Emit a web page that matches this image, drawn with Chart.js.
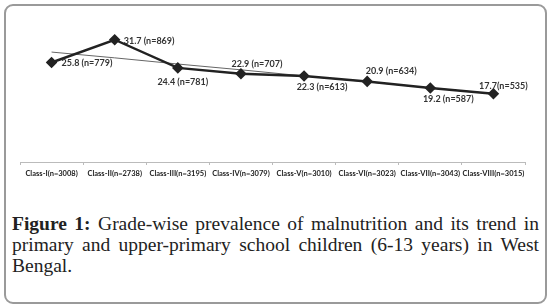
<!DOCTYPE html>
<html>
<head>
<meta charset="utf-8">
<script src="https://cdn.jsdelivr.net/npm/chart.js@4.4.1/dist/chart.umd.min.js"></script>
<style>
  body { margin: 0; background: #fff; width: 551px; height: 308px; overflow: hidden; }
  #frame {
    position: absolute; left: 4px; top: 4px; width: 539px; height: 296px;
    border: 2px solid #9a9a9a; border-radius: 9px;
  }
  #chartBox { position: absolute; left: 0; top: 0; width: 551px; height: 195px; }
  #caption {
    position: absolute; left: 12px; top: 213px; width: 527px;
    font-family: "Liberation Serif", "DejaVu Serif", serif; font-size: 19.5px; color: #222;
    line-height: 21px;
  }
  #caption .j { text-align: justify; text-align-last: justify; white-space: nowrap; }
</style>
</head>
<body>
<div id="frame"></div>
<div id="chartBox"><canvas id="myChart"></canvas></div>
<div id="caption">
  <div class="j"><b>Figure 1:</b> Grade-wise prevalence of malnutrition and its trend in</div>
  <div class="j">primary and upper-primary school children (6-13 years) in West</div>
  <div>Bengal.</div>
</div>
<script>
// categories (x axis)
const classes = ['Class-I(n=3008)', 'Class-II(n=2738)', 'Class-III(n=3195)', 'Class-IV(n=3079)',
                 'Class-V(n=3010)', 'Class-VI(n=3023)', 'Class-VII(n=3043)', 'Class-VIII(n=3015)'];

// prevalence (%) and number malnourished
const prevalence = [25.8, 31.7, 24.4, 22.9, 22.3, 20.9, 19.2, 17.7];
const malnourished = [779, 869, 781, 707, 613, 634, 587, 535];

// trend line
const trend = [28.5, 27.0, 25.4, 23.9, 22.3, 20.8, 19.2, 17.7];

// where each label sits relative to its point: [dx, dy, align]
const labelPos = [
    [10, 1, 'left'], [9, 1, 'left'], [5, 14, 'center'], [16, -10, 'center'],
    [18, 11, 'center'], [24, -10, 'center'], [18, 11, 'center'], [10, -8, 'center']
];

const pointLabels = {
    id: 'pointLabels',
    afterDatasetsDraw(chart) {
        const ctx = chart.ctx;
        const meta = chart.getDatasetMeta(0);
        ctx.save();
        ctx.font = 'bold 9px Lato, sans-serif';
        ctx.fillStyle = '#333';
        ctx.textBaseline = 'middle';
        meta.data.forEach((pt, i) => {
            const p = labelPos[i];
            const sep = i === 7 ? '' : ' ';
            ctx.textAlign = p[2];
            ctx.fillText(prevalence[i].toFixed(1) + sep + '(n=' + malnourished[i] + ')', pt.x + p[0], pt.y + p[1]);
        });
        ctx.restore();
    }
};

const myChart = document.getElementById('myChart');

new Chart(myChart, {
    type: 'line',
    data: {
        labels: classes,
        datasets: [{
            label: 'Prevalence',
            data: prevalence,
            borderColor: '#222',
            backgroundColor: '#222',
            borderWidth: 2.5,
            pointStyle: 'rectRot',
            pointRadius: 4,
            tension: 0
        }, {
            label: 'Trend',
            data: trend,
            borderColor: '#666',
            borderWidth: 1,
            pointRadius: 0,
            tension: 0
        }]
    },
    plugins: [pointLabels],
    options: {
        responsive: true,
        maintainAspectRatio: false,
        animation: false,
        layout: { padding: { left: 20, right: 26, top: 27, bottom: 13 } },
        plugins: { legend: { display: false }, tooltip: { enabled: false } },
        scales: {
            y: { display: false, min: 0, max: 35 },
            x: {
                offset: true,
                grid: { offset: true, drawOnChartArea: false, drawTicks: true, tickLength: 3, color: '#bbb' },
                border: { display: true, color: '#bbb' },
                ticks: {
                    autoSkip: false, maxRotation: 0, padding: 4,
                    color: '#222',
                    font: { family: 'Lato, sans-serif', size: 7.5, weight: 'bold' }
                }
            }
        }
    }
});
</script>
</body>
</html>
